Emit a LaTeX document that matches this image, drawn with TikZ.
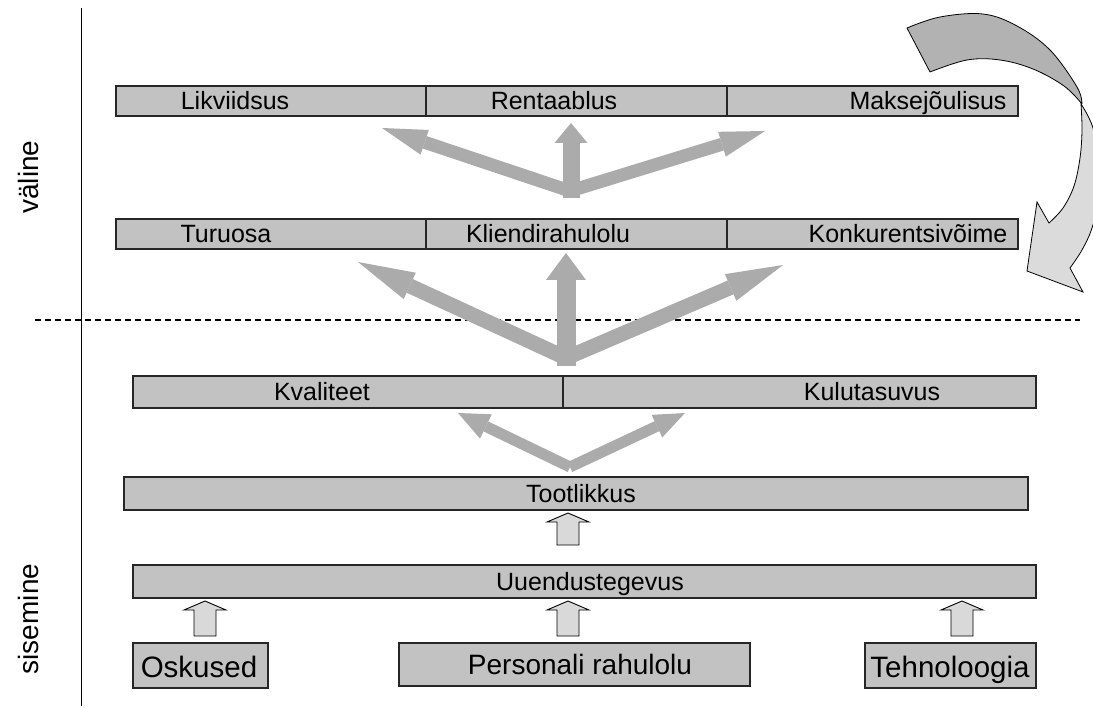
\documentclass[tikz,border=0pt]{standalone}
\usepackage{fontspec}
\setmainfont{Liberation Sans}
\usetikzlibrary{arrows.meta,calc}
\definecolor{boxgray}{gray}{0.76}
\definecolor{arrgray}{gray}{0.67}
\definecolor{lightarr}{gray}{0.85}
\definecolor{darkcurve}{gray}{0.70}
\definecolor{lightcurve}{gray}{0.86}
\newcommand\blockup[2]{%
  \path[draw=black, fill=lightarr, line width=0.9pt, line join=miter]
    let \p1=(#1), \p2=(#2) in
    (\x1-11pt,\y1) -- (\x1+11pt,\y1) -- (\x1+11pt,\y2-9pt) -- (\x1+21pt,\y2-9pt)
    -- (\x1,\y2) -- (\x1-21pt,\y2-9pt) -- (\x1-11pt,\y2-9pt) -- cycle;}
\begin{document}
\begin{tikzpicture}[x=1pt,y=-1pt,
  box/.style={draw=black!85, fill=boxgray, line width=1.2pt, inner sep=0pt, outer sep=0pt},
  lbl/.style={font=\fontsize{25}{30}\selectfont, inner sep=0pt, text height=17.9pt, text depth=0pt},
  lblb/.style={font=\fontsize{28}{33}\selectfont, inner sep=0pt, text height=20pt, text depth=0pt},
  lblc/.style={font=\fontsize{29.5}{34}\selectfont, inner sep=0pt, text height=21pt, text depth=0pt},
  bigarr/.style={draw=arrgray, line cap=butt}]
\useasboundingbox (0,0) rectangle (1093,708);

% axis and separator
\coordinate (axt) at (81,8);
\coordinate (axb) at (81,706);
\draw[line width=1pt] (axt) -- (axb);
\coordinate (dl) at (35,320);
\coordinate (dr) at (1080,320);
\draw[line width=1.4pt, dash pattern=on 6pt off 4pt] (dl) -- (dr);
\node[lblb, rotate=90] (valine) at (28,177) {väline};
\node[lblb, rotate=90] (sisemine) at (28,619) {sisemine};

% row 1
\node[box, minimum width=310pt, minimum height=30pt] (r1a) at (271,101) {};
\node[box, minimum width=301pt, minimum height=30pt] (r1b) at (576.5,101) {};
\node[box, minimum width=291pt, minimum height=30pt] (r1c) at (872.5,101) {};
\node[lbl] (t1a) at (235,101) {Likviidsus};
\node[lbl] (t1b) at (554,101) {Rentaablus};
\node[lbl] (t1c) at (928,101) {Maksejõulisus};
% row 2
\node[box, minimum width=310pt, minimum height=30pt] (r2a) at (271,234) {};
\node[box, minimum width=301pt, minimum height=30pt] (r2b) at (576.5,234) {};
\node[box, minimum width=291pt, minimum height=30pt] (r2c) at (872.5,234) {};
\node[lbl] (t2a) at (226,234) {Turuosa};
\node[lbl] (t2b) at (548,234) {Kliendirahulolu};
\node[lbl] (t2c) at (908,234) {Konkurentsivõime};
% row 3
\node[box, minimum width=430pt, minimum height=32pt] (r3a) at (348,392) {};
\node[box, minimum width=473pt, minimum height=32pt] (r3b) at (799.5,392) {};
\node[lbl] (t3a) at (322,392) {Kvaliteet};
\node[lbl] (t3b) at (872,392) {Kulutasuvus};
% row 4, 5
\node[box, minimum width=904pt, minimum height=33pt] (r4) at (576,493.5) {};
\node[lbl] (t4) at (581,493.5) {Tootlikkus};
\node[box, minimum width=903pt, minimum height=33pt] (r5) at (584.5,581.5) {};
\node[lbl] (t5) at (590,581.5) {Uuendustegevus};
% row 6
\node[box, minimum width=135pt, minimum height=45pt] (osk) at (200.5,665.5) {};
\node[lblc] (tosk) at (199,666.5) {Oskused};
\node[box, minimum width=351pt, minimum height=43pt] (pers) at (574.5,664.5) {};
\node[lblb] (tpers) at (580,664.5) {Personali rahulolu};
\node[box, minimum width=171pt, minimum height=45pt] (tehn) at (950.5,665.5) {};
\node[lblc] (ttehn) at (950,666.5) {Tehnoloogia};

% small block arrows
\coordinate (b1s) at (205,636); \coordinate (b1e) at (205,601);
\coordinate (b2s) at (568,636); \coordinate (b2e) at (568,601);
\coordinate (b3s) at (962,636); \coordinate (b3e) at (962,601);
\coordinate (b4s) at (568,545); \coordinate (b4e) at (568,513);
\blockup{b1s}{b1e}
\blockup{b2s}{b2e}
\blockup{b3s}{b3e}
\blockup{b4s}{b4e}

% big arrows set 3 (to Kvaliteet / Kulutasuvus)
\coordinate (o3) at (570,467);
\coordinate (t3l) at (458,413);
\coordinate (t3r) at (685,413);
\draw[bigarr, line width=11pt, -{Triangle[width=27pt,length=31pt,line width=0pt]}] (o3) -- (t3l);
\draw[bigarr, line width=11pt, -{Triangle[width=25pt,length=31pt,line width=0pt]}] (o3) -- (t3r);

% big arrows set 2
\coordinate (o2) at (566,358);
\coordinate (o2v) at (566,366);
\coordinate (t2l) at (358,262);
\coordinate (t2u) at (566,253);
\coordinate (t2r) at (783,265);
\draw[bigarr, line width=15pt, -{Triangle[width=29pt,length=57pt,line width=0pt]}] (o2) -- (t2l);
\draw[bigarr, line width=15pt, -{Triangle[width=29pt,length=57pt,line width=0pt]}] (o2) -- (t2r);
\draw[bigarr, line width=19pt, -{Triangle[width=40pt,length=27pt,line width=0pt]}] (o2v) -- (t2u);

% big arrows set 1
\coordinate (o1) at (570,191);
\coordinate (o1v) at (571,198);
\coordinate (t1l) at (382,128);
\coordinate (t1u) at (571,123);
\coordinate (t1r) at (765,131);
\draw[bigarr, line width=13pt, -{Triangle[width=26pt,length=45pt,line width=0pt]}] (o1) -- (t1l);
\draw[bigarr, line width=13pt, -{Triangle[width=26pt,length=45pt,line width=0pt]}] (o1) -- (t1r);
\draw[bigarr, line width=17pt, -{Triangle[width=33pt,length=20pt,line width=0pt]}] (o1v) -- (t1u);

% curved arrow
\path[draw=black, fill=darkcurve, line width=0.8pt, line join=round]
  (930,72) -- (907,28)
  -- plot[smooth, tension=0.6] coordinates {(907,28) (940,17) (983,14) (1017,26) (1050,50) (1077,87) (1082,104)}
  -- plot[smooth, tension=0.6] coordinates {(1082,104) (1064,86) (1033,69) (1000,60) (967,60) (930,72)}
  -- cycle;
\path[draw=black, fill=lightcurve, line width=0.8pt, line join=miter]
  plot[smooth, tension=0.6] coordinates {(1081,104) (1088,116) (1094,132) (1099,165) (1098,200) (1092,228) (1082,250) (1070,268)}
  -- (1083,292) -- (1027,271) -- (1037,202) -- (1049,223)
  -- plot[smooth, tension=0.6] coordinates {(1049,223) (1063,208) (1074,186) (1080,158) (1082,130) (1081,104)}
  -- cycle;
\end{tikzpicture}
\end{document}
